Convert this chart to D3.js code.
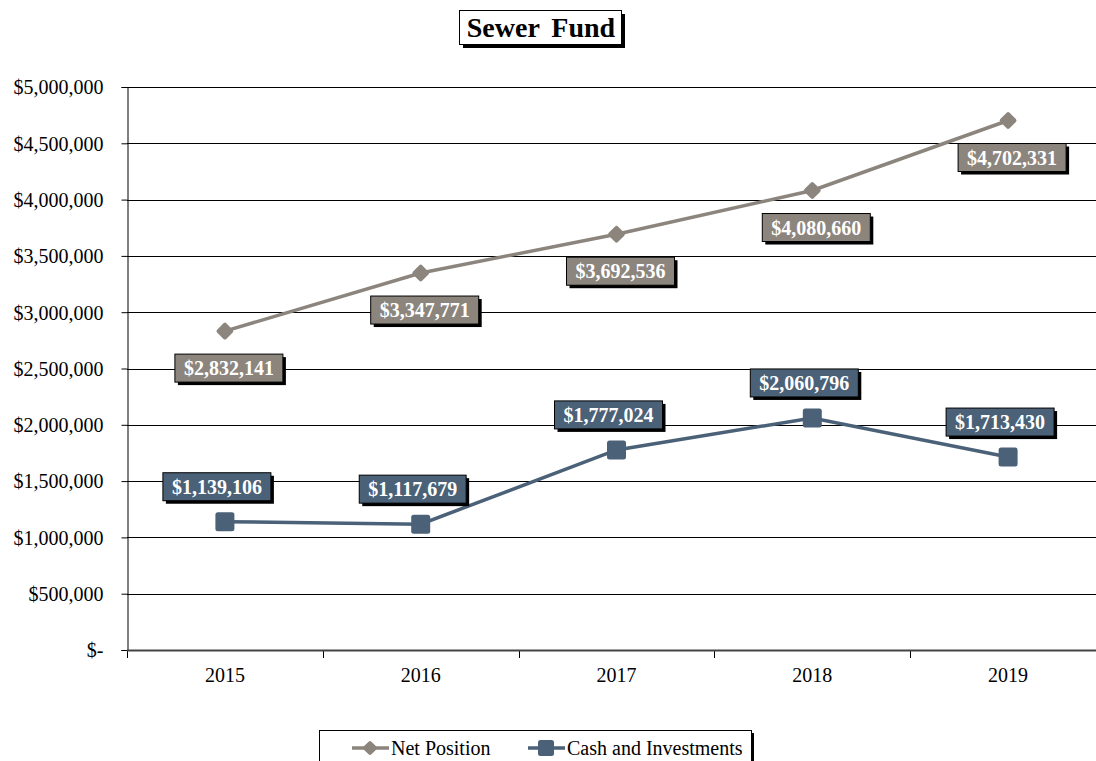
<!DOCTYPE html>
<html>
<head>
<meta charset="utf-8">
<script src="https://cdn.jsdelivr.net/npm/d3@7"></script>
<style>
  body { margin: 0; background: #fff; }
  svg text { font-family: "Liberation Serif", "Times New Roman", serif !important; }
</style>
</head>
<body>
<div class="chartdiv"></div>
<script>
// chart values
let years = ['2015', '2016', '2017', '2018', '2019']
let netPosition = [2832141, 3347771, 3692536, 4080660, 4702331]
let cashInvest = [1139106, 1117679, 1777024, 2060796, 1713430]
let yTicks = [0, 500000, 1000000, 1500000, 2000000, 2500000, 3000000, 3500000, 4000000, 4500000, 5000000]
let seriesNames = ['Net Position', 'Cash and Investments']

let w = 1096, h = 761
let netColor = '#8c857e', cashColor = '#4a6177'
let serif = '"Liberation Serif", "Times New Roman", serif'

let svg = d3.select('.chartdiv').append('svg')
    .attr('width', w)
    .attr('height', h)

let plotLeft = 127, plotRight = 1106, plotTop = 87, plotBottom = 650

let xScale = d3.scaleBand()
    .domain(years)
    .range([plotLeft, plotRight])
let yScale = d3.scaleLinear()
    .domain([0, 5000000])
    .range([plotBottom, plotTop])

let fmt = d3.format(',')
let money = v => v === 0 ? '$-' : '$' + fmt(v)

// gridlines
svg.append('g')
    .selectAll('line')
    .data(yTicks.filter(d => d > 0))
    .enter()
    .append('line')
    .attr('x1', plotLeft).attr('x2', w)
    .attr('y1', d => Math.round(yScale(d)) + 0.5)
    .attr('y2', d => Math.round(yScale(d)) + 0.5)
    .attr('stroke', '#000')
    .attr('stroke-width', 1)

// y axis
let yAxis = d3.axisLeft(yScale)
    .tickValues(yTicks)
    .tickSize(6)
    .tickFormat(money)
let gy = svg.append('g')
    .attr('transform', 'translate(' + (plotLeft + 0.5) + ',0)')
    .attr('font-family', serif)
    .call(yAxis)
gy.select('.domain').attr('stroke', '#000')
gy.selectAll('text')
    .attr('x', -24)
    .attr('dy', '0.34em')
    .style('font-size', '20px')
    .attr('fill', '#000')

// x axis line and ticks at category boundaries
let gx = svg.append('g')
svg.append('line')
    .attr('x1', plotLeft).attr('x2', w)
    .attr('y1', plotBottom + 0.5).attr('y2', plotBottom + 0.5)
    .attr('stroke', '#444').attr('stroke-width', 2)
gx.selectAll('line')
    .data(years)
    .enter()
    .append('line')
    .attr('x1', d => Math.round(xScale(d)) + 0.5)
    .attr('x2', d => Math.round(xScale(d)) + 0.5)
    .attr('y1', plotBottom).attr('y2', plotBottom + 8)
    .attr('stroke', '#000')
gx.selectAll('text')
    .data(years)
    .enter()
    .append('text')
    .attr('x', d => xScale(d) + xScale.bandwidth() / 2)
    .attr('y', plotBottom + 32)
    .attr('text-anchor', 'middle')
    .attr('font-family', serif)
    .style('font-size', '20px')
    .text(d => d)

let cx = d => xScale(d) + xScale.bandwidth() / 2

let line = d3.line()
    .x((d, i) => cx(years[i]))
    .y(d => yScale(d))

// series lines
svg.append('path')
    .datum(netPosition)
    .attr('d', line)
    .attr('fill', 'none')
    .attr('stroke', netColor)
    .attr('stroke-width', 3.5)
svg.append('path')
    .datum(cashInvest)
    .attr('d', line)
    .attr('fill', 'none')
    .attr('stroke', cashColor)
    .attr('stroke-width', 3.5)

// markers
function diamond(g, x, y, s) {
    g.append('rect')
        .attr('x', x - s / 2).attr('y', y - s / 2)
        .attr('width', s).attr('height', s)
        .attr('rx', 2)
        .attr('fill', netColor)
        .attr('transform', 'rotate(45,' + x + ',' + y + ')')
}
function square(g, x, y, s) {
    g.append('rect')
        .attr('x', x - s / 2).attr('y', y - s / 2)
        .attr('width', s).attr('height', s)
        .attr('rx', 2.5)
        .attr('fill', cashColor)
}
let gm = svg.append('g')
netPosition.forEach((d, i) => diamond(gm, cx(years[i]), yScale(d), 13))
cashInvest.forEach((d, i) => square(gm, cx(years[i]), yScale(d), 19))

// data labels
function label(g, x, y, txt, fill) {
    let t = g.append('text')
        .attr('x', x).attr('y', y + 7)
        .attr('text-anchor', 'middle')
        .attr('fill', '#fff')
        .attr('font-family', serif)
        .style('font-size', '20px')
        .style('font-weight', 'bold')
        .text(txt)
    let bb = t.node().getBBox()
    let bw = bb.width + 18, bh = 28
    g.insert('rect', 'text')
        .attr('x', x - bw / 2 + 3).attr('y', y - bh / 2 + 3)
        .attr('width', bw).attr('height', bh)
        .attr('fill', '#000')
    g.insert('rect', 'text')
        .attr('x', x - bw / 2).attr('y', y - bh / 2)
        .attr('width', bw).attr('height', bh)
        .attr('fill', fill)
        .attr('stroke', '#000')
        .attr('stroke-width', 1)
}
netPosition.forEach((d, i) => {
    let g = svg.append('g')
    label(g, cx(years[i]) + 4, yScale(d) + 37, money(d), netColor)
})
cashInvest.forEach((d, i) => {
    let g = svg.append('g')
    label(g, cx(years[i]) - 8, yScale(d) - 35, money(d), cashColor)
})

// title
let gt = svg.append('g')
let tt = gt.append('text')
    .attr('x', 541).attr('y', 37)
    .attr('text-anchor', 'middle')
    .attr('font-family', serif)
    .style('font-size', '28px')
    .style('font-weight', 'bold')
    .style('word-spacing', '5px')
    .text('Sewer Fund')
gt.insert('rect', 'text')
    .attr('x', 463).attr('y', 14)
    .attr('width', 162).attr('height', 34)
    .attr('fill', '#000')
gt.insert('rect', 'text')
    .attr('x', 459.5).attr('y', 10.5)
    .attr('width', 162).attr('height', 34)
    .attr('fill', '#fff')
    .attr('stroke', '#000')

// legend
let gl = svg.append('g')
gl.append('rect')
    .attr('x', 322).attr('y', 733)
    .attr('width', 432).attr('height', 40)
    .attr('fill', '#000')
gl.append('rect')
    .attr('x', 319.5).attr('y', 730.5)
    .attr('width', 432).attr('height', 40)
    .attr('fill', '#fff')
    .attr('stroke', '#000')
let legX = [352, 528]
let legColors = [netColor, cashColor]
seriesNames.forEach((n, i) => {
    let x0 = legX[i]
    gl.append('line')
        .attr('x1', x0).attr('x2', x0 + 37)
        .attr('y1', 748).attr('y2', 748)
        .attr('stroke', legColors[i]).attr('stroke-width', 3.5)
    if (i == 0) diamond(gl, x0 + 18, 748, 11)
    else square(gl, x0 + 18, 748, 16)
    gl.append('text')
        .attr('x', x0 + 39).attr('y', 755)
        .attr('font-family', serif)
        .style('font-size', '20px')
        .text(n)
})
</script>
</body>
</html>
